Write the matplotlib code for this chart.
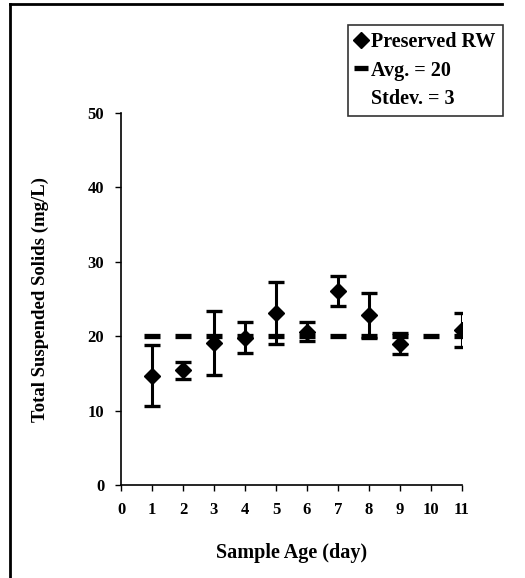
import matplotlib
matplotlib.use("Agg")
import matplotlib.pyplot as plt
from matplotlib.lines import Line2D

# Total suspended solids of preserved river water vs. sample age
days = [1, 2, 3, 4, 5, 6, 7, 8, 9, 11]
tss_mean = [14.7, 15.4, 19.1, 19.8, 23.1, 20.6, 26.1, 22.8, 19.0, 20.8]
tss_err = [4.1, 1.1, 4.3, 2.1, 4.2, 1.3, 2.0, 3.0, 1.4, 2.3]

avg_days = [1, 2, 3, 4, 5, 6, 7, 8, 9, 10, 11]
avg_value = 20
stdev_value = 3

x_ticks = list(range(0, 12))
y_ticks = [0, 10, 20, 30, 40, 50]

plt.rcParams["font.family"] = ["Liberation Serif", "DejaVu Serif"]
plt.rcParams["font.weight"] = "bold"

fig = plt.figure(figsize=(5.25, 5.78), dpi=100)
ax = fig.add_axes([121 / 525, 1 - 485 / 578, (462 - 121) / 525, (485 - 113) / 578])

# Average line drawn as short thick dashes at every day
ax.plot(avg_days, [avg_value] * len(avg_days), linestyle="none", marker="_",
        markersize=12, markeredgewidth=3.8, color="black", zorder=2)

ax.errorbar(days, tss_mean, yerr=tss_err, fmt="D", color="black",
            markersize=8, elinewidth=2.2, capsize=6, capthick=2.4, zorder=3)

ax.set_xlim(0, 11)
ax.set_ylim(0, 50)
ax.set_xticks(x_ticks)
ax.set_yticks(y_ticks)
ax.tick_params(axis="both", direction="out", length=4, width=1, labelsize=12, pad=8)
for s in ["top", "right"]:
    ax.spines[s].set_visible(False)
for s in ["left", "bottom"]:
    ax.spines[s].set_linewidth(1.2)

ax.set_xlabel("Sample Age (day)", fontsize=14.5, fontweight="bold", labelpad=18)
ax.set_ylabel("Total Suspended Solids (mg/L)", fontsize=13.5, fontweight="bold", labelpad=28)

handles = [
    Line2D([], [], linestyle="none", marker="D", markersize=8, color="black"),
    Line2D([], [], linestyle="none", marker="_", markersize=10, markeredgewidth=3.8, color="black"),
    Line2D([], [], linestyle="none", marker=None),
]
labels = ["Preserved RW", f"Avg. = {avg_value}", f"Stdev. = {stdev_value}"]
leg = fig.legend(handles, labels, loc="upper left",
                 bbox_to_anchor=(348 / 525, 1 - 25 / 578), frameon=True,
                 fancybox=False, edgecolor="black", fontsize=14.5,
                 handlelength=0.6, handletextpad=0.2, borderpad=0.35,
                 labelspacing=0.42, borderaxespad=0)
leg.get_frame().set_linewidth(1.2)

# Outer frame around the figure
fig.add_artist(Line2D([10 / 525, 502 / 525], [1 - 4 / 578, 1 - 4 / 578],
                      transform=fig.transFigure, color="black", linewidth=2))
fig.add_artist(Line2D([10 / 525, 10 / 525], [0, 1 - 4 / 578],
                      transform=fig.transFigure, color="black", linewidth=2))

fig.savefig("out.png", dpi=100)
